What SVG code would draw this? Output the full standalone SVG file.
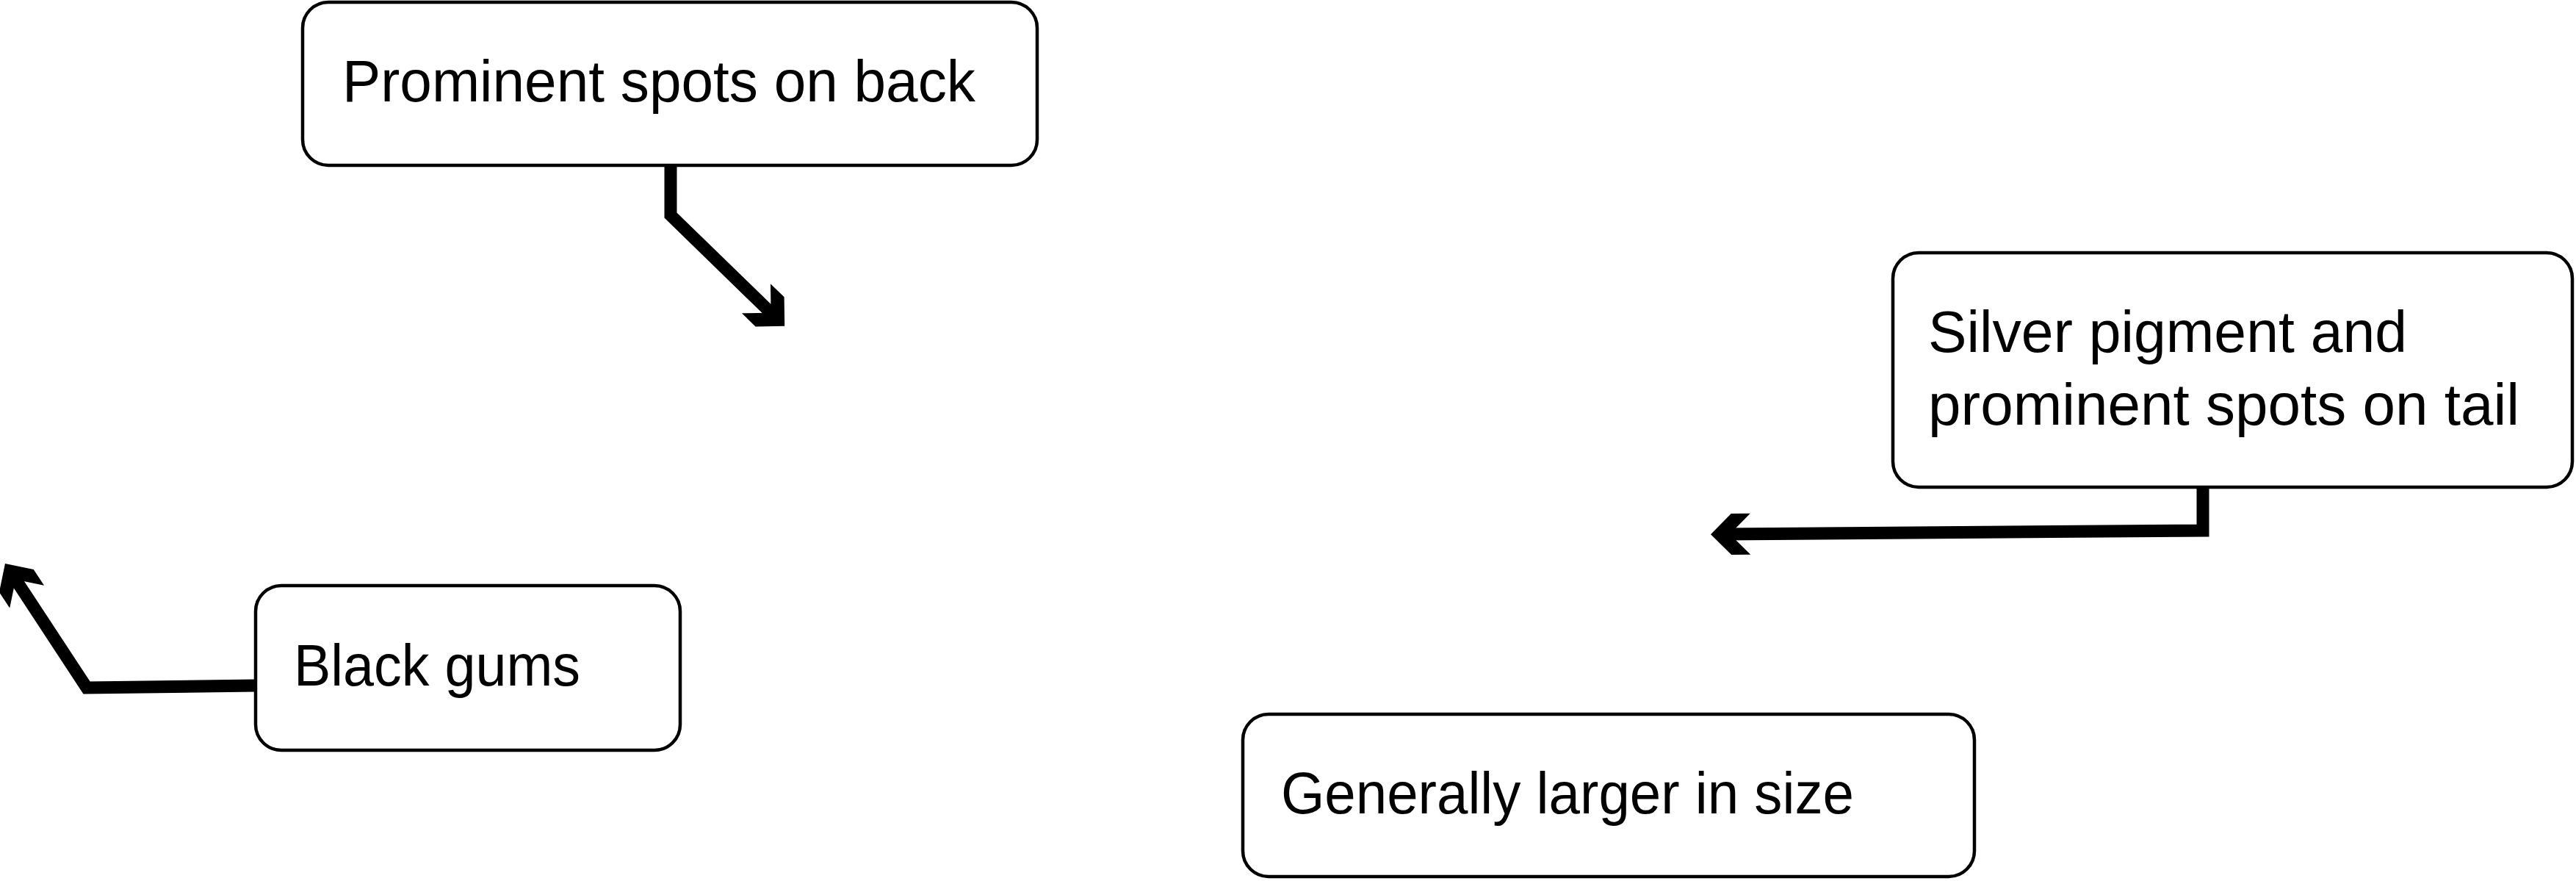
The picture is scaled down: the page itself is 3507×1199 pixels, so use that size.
<svg xmlns="http://www.w3.org/2000/svg" width="3507" height="1199" viewBox="0 0 3507 1199">
<style>
.box{fill:#fff;stroke:#000;stroke-width:4.5}
.lbl{font-family:"Liberation Sans",Arial,sans-serif;font-size:79px;fill:#000}
.conn{fill:none;stroke:#000;stroke-width:17;stroke-linejoin:miter;stroke-miterlimit:10}
</style>
<defs>
<marker id="chev" markerUnits="userSpaceOnUse" orient="auto" refX="0" refY="0" markerWidth="120" markerHeight="120" overflow="visible">
<polygon points="17,0 -11,-28 -37,-28 -9,0 -37,28 -11,28" fill="#000"/>
</marker>
</defs>
<rect width="3507" height="1199" fill="#fff"/>
<g id="connectors">
<path class="conn" d="M913 225 L913 293 L1056 432" marker-end="url(#chev)"/>
<path class="conn" d="M348 933 L118 936 L16.3 781.2" marker-end="url(#chev)"/>
<path class="conn" d="M2999 663 L2999 722 L2346 727" marker-end="url(#chev)"/>
</g>
<g id="node-back">
<rect class="box" x="412" y="3" width="1000" height="222" rx="35" ry="35"/>
<text class="lbl" x="466" y="138" textLength="862" lengthAdjust="spacingAndGlyphs">Prominent spots on back</text>
</g>
<g id="node-gums">
<rect class="box" x="348" y="797" width="578" height="224" rx="35" ry="35"/>
<text class="lbl" x="400" y="933" textLength="390" lengthAdjust="spacingAndGlyphs">Black gums</text>
</g>
<g id="node-tail">
<rect class="box" x="2577" y="344" width="925" height="319" rx="35" ry="35"/>
<text class="lbl" x="2625" y="479" textLength="652" lengthAdjust="spacingAndGlyphs">Silver pigment and</text>
<text class="lbl" x="2625" y="578" textLength="805" lengthAdjust="spacingAndGlyphs">prominent spots on tail</text>
</g>
<g id="node-size">
<rect class="box" x="1692" y="972" width="996" height="221" rx="35" ry="35"/>
<text class="lbl" x="1744" y="1107" textLength="780" lengthAdjust="spacingAndGlyphs">Generally larger in size</text>
</g>
</svg>
